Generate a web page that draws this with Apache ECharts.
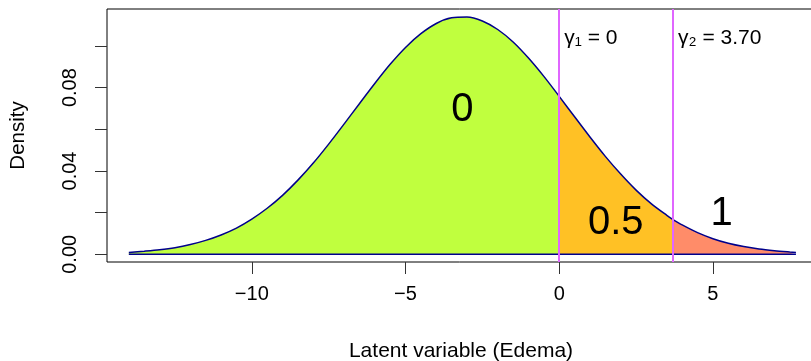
<!DOCTYPE html>
<html>
<head>
<meta charset="utf-8">
<script src="https://cdn.jsdelivr.net/npm/echarts@6/dist/echarts.min.js"></script>
<style>
html,body{margin:0;padding:0;background:#fff;}
#chart{width:811px;height:361px;}
</style>
</head>
<body>
<div id="chart"></div>
<script>
// Density curve
const latentX = [-14, -13.5, -13, -12.5, -12, -11.5, -11, -10.5, -10, -9.5, -9, -8.5, -8, -7.5, -7, -6.5, -6, -5.5, -5, -4.5, -4, -3.5, -3, -2.5, -2, -1.5, -1, -0.5, 0, 0.5, 1, 1.5, 2, 2.5, 3, 3.5, 3.7, 4, 4.5, 5, 5.5, 6, 6.5, 7, 7.5, 7.7];
const density = [0.0009, 0.0015, 0.0022, 0.0032, 0.0047, 0.0067, 0.0093, 0.0126, 0.0169, 0.0221, 0.0283, 0.0356, 0.0438, 0.0529, 0.0625, 0.0723, 0.0820, 0.0912, 0.0993, 0.1059, 0.1108, 0.1135, 0.1139, 0.1120, 0.1079, 0.1019, 0.0942, 0.0854, 0.0758, 0.0660, 0.0563, 0.0470, 0.0385, 0.0308, 0.0242, 0.0187, 0.0167, 0.0141, 0.0104, 0.0075, 0.0053, 0.0037, 0.0025, 0.0017, 0.0011, 0.0009];

// Thresholds
const thresholds = [0, 3.70];
const thresholdText = ['γ₁ = 0', 'γ₂ = 3.70'];

// Region labels
const regionNames = ['0', '0.5', '1'];
const regionLabelX = [-3.15, 1.84, 5.28];
const regionLabelY = [0.0695, 0.0149, 0.0192];

// Axis ticks
const xTicks = [-10, -5, 0, 5];
const yTicks = [0, 0.02, 0.04, 0.06, 0.08, 0.10];
const yTickLabels = [0, 0.04, 0.08];

const regionColors = ['#C0FF3E', '#FFC125', '#FF8C69'];
const FONT = 'Liberation Sans, Arial, Helvetica, sans-serif';

const bounds = [-Infinity].concat(thresholds).concat([Infinity]);
const regionSeries = regionNames.map((nm, i) => {
  const pts = [];
  latentX.forEach((x, k) => {
    if (x >= bounds[i] && x <= bounds[i + 1]) pts.push([x, density[k]]);
  });
  return {
    type: 'line',
    name: 'region ' + nm,
    data: pts,
    showSymbol: false,
    smooth: 0.3,
    lineStyle: { color: '#00008B', width: 1.5 },
    areaStyle: { color: regionColors[i], opacity: 1 },
    z: 2
  };
});

const chart = echarts.init(document.getElementById('chart'), null, { renderer: 'canvas' });
chart.setOption({
  animation: false,
  backgroundColor: '#fff',
  grid: { left: 107, top: 9, right: -4, bottom: 99, containLabel: false, outerBoundsMode: 'none', show: true, borderColor: '#000', borderWidth: 1, backgroundColor: 'transparent' },
  xAxis: {
    type: 'value', min: -14.71, max: 8.32,
    axisLine: { show: false, onZero: false },
    splitLine: { show: false },
    axisTick: { show: true, customValues: xTicks, length: 12, lineStyle: { color: '#333', width: 1 } },
    axisLabel: {
      customValues: xTicks, fontSize: 20, color: '#000', fontFamily: FONT, margin: 22,
      formatter: v => (v < 0 ? '\u2212' + Math.abs(v) : String(v))
    },
    name: 'Latent variable (Edema)', nameLocation: 'middle', nameGap: 79,
    nameTextStyle: { fontSize: 21, color: '#000', fontFamily: FONT }
  },
  yAxis: {
    type: 'value', min: -0.00369, max: 0.11774,
    axisLine: { show: false, onZero: false },
    splitLine: { show: false },
    axisTick: { show: true, customValues: yTicks, length: 12, lineStyle: { color: '#333', width: 1 } },
    axisLabel: {
      customValues: yTickLabels, rotate: 90, fontSize: 20, color: '#000', fontFamily: FONT, margin: 27,
      formatter: v => v.toFixed(2)
    },
    name: 'Density', nameLocation: 'middle', nameGap: 78,
    nameTextStyle: { fontSize: 20.5, color: '#000', fontFamily: FONT }
  },
  series: regionSeries.concat([
    {
      type: 'line', name: 'baseline', showSymbol: false,
      data: [[latentX[0], 0], [latentX[latentX.length - 1], 0]],
      lineStyle: { color: '#00008B', width: 1.5 }, z: 3
    },
    {
      type: 'line', name: 'thresholds', data: [], z: 4,
      markLine: {
        silent: true, symbol: 'none', label: { show: false },
        lineStyle: { color: '#E066FF', width: 2, type: 'solid' },
        data: thresholds.map(t => ({ xAxis: t }))
      }
    },
    {
      type: 'scatter', name: 'regionLabels', symbolSize: 0, z: 5,
      itemStyle: { opacity: 1 },
      data: regionNames.map((nm, i) => ({ name: nm, value: [regionLabelX[i], regionLabelY[i]] })),
      label: { show: true, position: 'inside', formatter: '{b}', fontSize: 40, color: '#000', opacity: 1, fontFamily: FONT }
    },
    {
      type: 'scatter', name: 'thresholdLabels', symbolSize: 0, z: 5,
      itemStyle: { opacity: 1 },
      data: thresholds.map((t, i) => ({ name: thresholdText[i], value: [t, 0.1035] })),
      label: { show: true, position: 'right', distance: 5, formatter: '{b}', fontSize: 21, color: '#000', opacity: 1, fontFamily: FONT }
    }
  ])
});
</script>
</body>
</html>
